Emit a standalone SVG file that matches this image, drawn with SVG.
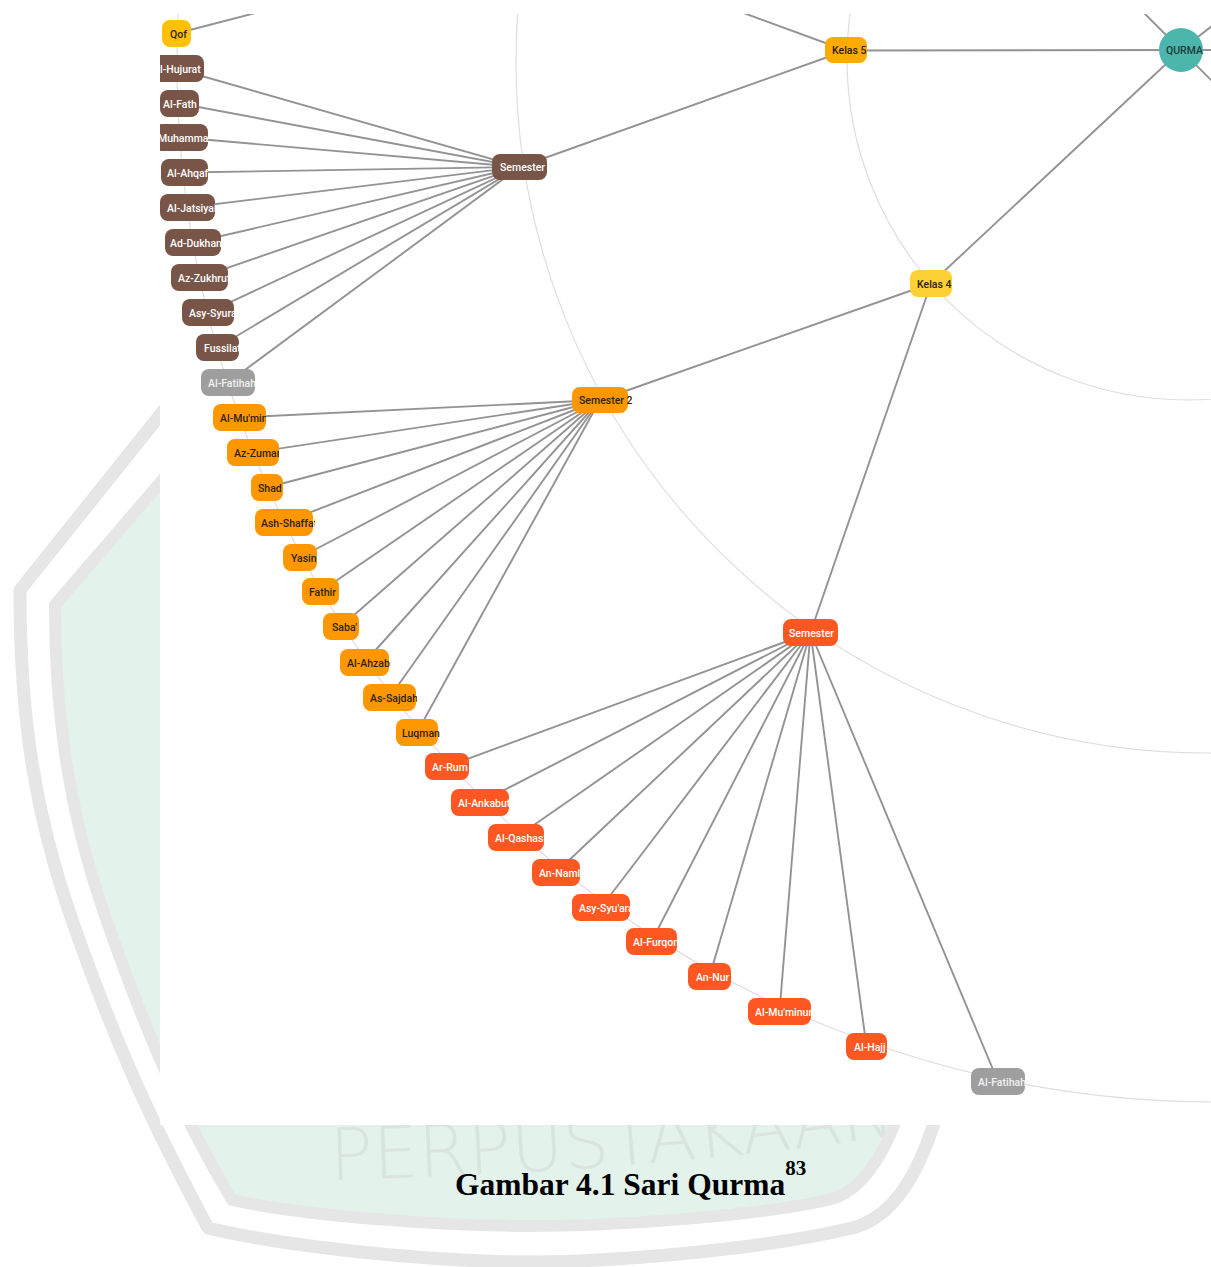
<svg xmlns="http://www.w3.org/2000/svg" width="1211" height="1267" viewBox="0 0 1211 1267">
<style>
.edge{stroke:#939393;stroke-width:1.9;fill:none}
.ring{stroke:#dedede;stroke-width:1.2;fill:none}
.lbl{font-family:Roboto,"Liberation Sans",sans-serif;font-size:10.5px;font-weight:500}
.wt{fill:#ffffff}
.dk{fill:#2b2200}
.brown{fill:#795548}
.grey{fill:#9e9e9e}
.orange{fill:#ff9800}
.red{fill:#ff5722}
.amber{fill:#ffab00}
.yellow{fill:#fdd035}
.gold{fill:#ffc107}
.teal{fill:#4db6ac}
.wmband{fill:none;stroke:#e6e6e6;stroke-linejoin:round}
.wmfill{fill:#e3f3eb;stroke:none}
</style>
<defs>
<clipPath id="shot"><rect x="160" y="14" width="1051" height="1111"/></clipPath>
<clipPath id="page"><rect x="0" y="1125" width="1211" height="142"/><rect x="0" y="0" width="160" height="1267"/></clipPath>
<path id="wmarc" d="M 330 1180 Q 700 1170 960 1125"/>
</defs>
<rect x="0" y="0" width="1211" height="1267" fill="#ffffff"/>
<g id="watermark">
<path class="wmfill" d="M 330 285 L 55 605 C 55 700 65 800 103 910 S 178 1110 232 1200 C 310 1217 450 1226 530 1226 C 610 1226 750 1217 828 1200 S 920 1010 957 910 C 995 800 1005 700 1005 605 L 730 285 Z"/>
<text clip-path="url(#page)" font-family="'DejaVu Sans',sans-serif" font-weight="200" font-size="72" fill="#d9e4de"><textPath href="#wmarc">PERPUSTAKAAN</textPath></text>
<path class="wmband" stroke-width="12" d="M 330 285 L 55 605 C 55 700 65 800 103 910 S 178 1110 232 1200 C 310 1217 450 1226 530 1226 C 610 1226 750 1217 828 1200 S 920 1010 957 910 C 995 800 1005 700 1005 605 L 730 285 Z"/>
<path class="wmband" stroke-width="13" d="M 300 240 L 20 590 C 20 700 30 800 72 920 S 150 1120 208 1228 C 300 1250 450 1262 530 1262 C 610 1262 760 1250 852 1228 S 950 1020 988 920 C 1030 800 1040 700 1040 590 L 760 240"/>
</g>
<rect x="160" y="0" width="1051" height="1125" fill="#ffffff"/>
<g clip-path="url(#shot)">
<g id="rings">
<circle class="ring" cx="1188" cy="59" r="341"/>
<circle class="ring" cx="1207" cy="62" r="691"/>
<circle class="ring" cx="1217" cy="62" r="1040"/>
</g>
<g id="connectors">
<line class="edge" x1="1181" y1="50" x2="1140" y2="9"/>
<line class="edge" x1="1181" y1="50" x2="1230" y2="12"/>
<line class="edge" x1="1181" y1="50" x2="1240" y2="50"/>
<line class="edge" x1="1181" y1="50" x2="1240" y2="109"/>
<line class="edge" x1="1181" y1="50" x2="846" y2="50.5"/>
<line class="edge" x1="1181" y1="50" x2="931" y2="283.5"/>
<line class="edge" x1="846" y1="50.5" x2="700" y2="-3"/>
<line class="edge" x1="176.5" y1="33.5" x2="300" y2="1.4"/>
<line class="edge" x1="846" y1="50.5" x2="519.5" y2="167"/>
<line class="edge" x1="931" y1="283.5" x2="600" y2="400"/>
<line class="edge" x1="931" y1="283.5" x2="810.5" y2="632.5"/>
<line class="edge" x1="519.5" y1="167" x2="175.5" y2="68.5"/>
<line class="edge" x1="519.5" y1="167" x2="179.5" y2="103.5"/>
<line class="edge" x1="519.5" y1="167" x2="181" y2="137.5"/>
<line class="edge" x1="519.5" y1="167" x2="184.5" y2="172.5"/>
<line class="edge" x1="519.5" y1="167" x2="187.5" y2="207.5"/>
<line class="edge" x1="519.5" y1="167" x2="193" y2="242.5"/>
<line class="edge" x1="519.5" y1="167" x2="199.5" y2="277.5"/>
<line class="edge" x1="519.5" y1="167" x2="208" y2="312.5"/>
<line class="edge" x1="519.5" y1="167" x2="217.5" y2="347.5"/>
<line class="edge" x1="519.5" y1="167" x2="228" y2="382.5"/>
<line class="edge" x1="600" y1="400" x2="239.5" y2="417.5"/>
<line class="edge" x1="600" y1="400" x2="253" y2="452.5"/>
<line class="edge" x1="600" y1="400" x2="267" y2="487.5"/>
<line class="edge" x1="600" y1="400" x2="284" y2="522.5"/>
<line class="edge" x1="600" y1="400" x2="300" y2="557.5"/>
<line class="edge" x1="600" y1="400" x2="320.5" y2="591.5"/>
<line class="edge" x1="600" y1="400" x2="341" y2="626.5"/>
<line class="edge" x1="600" y1="400" x2="364.5" y2="662.5"/>
<line class="edge" x1="600" y1="400" x2="389.5" y2="697.5"/>
<line class="edge" x1="600" y1="400" x2="417" y2="732.5"/>
<line class="edge" x1="810.5" y1="632.5" x2="447" y2="766.5"/>
<line class="edge" x1="810.5" y1="632.5" x2="480" y2="802.5"/>
<line class="edge" x1="810.5" y1="632.5" x2="516" y2="837.5"/>
<line class="edge" x1="810.5" y1="632.5" x2="556" y2="872.5"/>
<line class="edge" x1="810.5" y1="632.5" x2="601" y2="907.5"/>
<line class="edge" x1="810.5" y1="632.5" x2="651.5" y2="941.5"/>
<line class="edge" x1="810.5" y1="632.5" x2="709.5" y2="976.5"/>
<line class="edge" x1="810.5" y1="632.5" x2="779.5" y2="1011.5"/>
<line class="edge" x1="810.5" y1="632.5" x2="866.5" y2="1046.5"/>
<line class="edge" x1="810.5" y1="632.5" x2="998" y2="1081.5"/>
</g>
<g id="nodes">
<g id="n-qurma"><circle class="teal" cx="1181" cy="50" r="22"/><text class="lbl" x="1166" y="54" font-size="9.5" fill="#1f3a37">QURMA</text></g>
<g id="n-kelas5"><svg x="825" y="37" width="42" height="26"><rect class="amber" width="42" height="26" rx="8"/><text class="lbl dk" x="7" y="17">Kelas 5</text></svg></g>
<g id="n-kelas4"><svg x="910" y="270" width="42" height="27"><rect class="yellow" width="42" height="27" rx="8"/><text class="lbl dk" x="7" y="17.5">Kelas 4</text></svg></g>
<g id="n-qof"><svg x="162" y="20" width="29" height="27"><rect class="gold" width="29" height="27" rx="8"/><text class="lbl dk" x="8" y="17.5">Qof</text></svg></g>
<g id="n-semester-a"><svg x="492" y="154" width="55" height="26"><rect class="brown" width="55" height="26" rx="8"/><text class="lbl wt" x="8" y="17">Semester</text></svg></g>
<g id="n-al-hujurat"><svg x="147" y="55" width="57" height="27"><rect class="brown" width="57" height="27" rx="8"/><text class="lbl wt" x="6" y="17.5">Al-Hujurat</text></svg></g>
<g id="n-al-fath"><svg x="160" y="90" width="39" height="27"><rect class="brown" width="39" height="27" rx="8"/><text class="lbl wt" x="3" y="17.5">Al-Fath</text></svg></g>
<g id="n-muhammad"><svg x="154" y="124" width="54" height="27"><rect class="brown" width="54" height="27" rx="8"/><text class="lbl wt" x="4" y="17.5">Muhammad</text></svg></g>
<g id="n-al-ahqaf"><svg x="161" y="159" width="47" height="27"><rect class="brown" width="47" height="27" rx="8"/><text class="lbl wt" x="6" y="17.5">Al-Ahqaf</text></svg></g>
<g id="n-al-jatsiyah"><svg x="160" y="194" width="55" height="27"><rect class="brown" width="55" height="27" rx="8"/><text class="lbl wt" x="7" y="17.5">Al-Jatsiyah</text></svg></g>
<g id="n-ad-dukhan"><svg x="165" y="229" width="56" height="27"><rect class="brown" width="56" height="27" rx="8"/><text class="lbl wt" x="5" y="17.5">Ad-Dukhan</text></svg></g>
<g id="n-az-zukhruf"><svg x="171" y="264" width="57" height="27"><rect class="brown" width="57" height="27" rx="8"/><text class="lbl wt" x="7" y="17.5">Az-Zukhruf</text></svg></g>
<g id="n-asy-syura"><svg x="182" y="299" width="52" height="27"><rect class="brown" width="52" height="27" rx="8"/><text class="lbl wt" x="7" y="17.5">Asy-Syura</text></svg></g>
<g id="n-fussilat"><svg x="196" y="334" width="43" height="27"><rect class="brown" width="43" height="27" rx="8"/><text class="lbl wt" x="8" y="17.5">Fussilat</text></svg></g>
<g id="n-al-fatihah-a"><svg x="201" y="369" width="54" height="27"><rect class="grey" width="54" height="27" rx="8"/><text class="lbl" fill="#f2f2f2" x="7" y="17.5">Al-Fatihah</text></svg></g>
<g id="n-semester-2"><svg x="572" y="387" width="62" height="26"><rect class="orange" width="56" height="26" rx="8"/><text class="lbl dk" x="7" y="17">Semester 2</text></svg></g>
<g id="n-al-mumin"><svg x="213" y="404" width="53" height="27"><rect class="orange" width="53" height="27" rx="8"/><text class="lbl dk" x="7" y="17.5">Al-Mu'min</text></svg></g>
<g id="n-az-zumar"><svg x="227" y="439" width="52" height="27"><rect class="orange" width="52" height="27" rx="8"/><text class="lbl dk" x="7" y="17.5">Az-Zumar</text></svg></g>
<g id="n-shad"><svg x="251" y="474" width="32" height="27"><rect class="orange" width="32" height="27" rx="8"/><text class="lbl dk" x="7" y="17.5">Shad</text></svg></g>
<g id="n-ash-shaffat"><svg x="255" y="509" width="60" height="27"><rect class="orange" width="58" height="27" rx="8"/><text class="lbl dk" x="6" y="17.5">Ash-Shaffat</text></svg></g>
<g id="n-yasin"><svg x="283" y="544" width="34" height="27"><rect class="orange" width="34" height="27" rx="8"/><text class="lbl dk" x="8" y="17.5">Yasin</text></svg></g>
<g id="n-fathir"><svg x="302" y="578" width="37" height="27"><rect class="orange" width="37" height="27" rx="8"/><text class="lbl dk" x="7" y="17.5">Fathir</text></svg></g>
<g id="n-saba"><svg x="323" y="613" width="36" height="27"><rect class="orange" width="36" height="27" rx="8"/><text class="lbl dk" x="9" y="17.5">Saba'</text></svg></g>
<g id="n-al-ahzab"><svg x="340" y="649" width="50" height="27"><rect class="orange" width="49" height="27" rx="8"/><text class="lbl dk" x="7" y="17.5">Al-Ahzab</text></svg></g>
<g id="n-as-sajdah"><svg x="363" y="684" width="54" height="27"><rect class="orange" width="53" height="27" rx="8"/><text class="lbl dk" x="7" y="17.5">As-Sajdah</text></svg></g>
<g id="n-luqman"><svg x="396" y="719" width="44" height="27"><rect class="orange" width="42" height="27" rx="8"/><text class="lbl dk" x="6" y="17.5">Luqman</text></svg></g>
<g id="n-semester-b"><svg x="783" y="619" width="55" height="27"><rect class="red" width="55" height="27" rx="8"/><text class="lbl wt" x="6" y="17.5">Semester</text></svg></g>
<g id="n-ar-rum"><svg x="425" y="753" width="44" height="27"><rect class="red" width="44" height="27" rx="8"/><text class="lbl wt" x="7" y="17.5">Ar-Rum</text></svg></g>
<g id="n-al-ankabut"><svg x="451" y="789" width="58" height="27"><rect class="red" width="58" height="27" rx="8"/><text class="lbl wt" x="7" y="17.5">Al-Ankabut</text></svg></g>
<g id="n-al-qashash"><svg x="488" y="824" width="56" height="27"><rect class="red" width="56" height="27" rx="8"/><text class="lbl wt" x="7" y="17.5">Al-Qashash</text></svg></g>
<g id="n-an-naml"><svg x="532" y="859" width="48" height="27"><rect class="red" width="48" height="27" rx="8"/><text class="lbl wt" x="7" y="17.5">An-Naml</text></svg></g>
<g id="n-asy-syuara"><svg x="572" y="894" width="58" height="27"><rect class="red" width="58" height="27" rx="8"/><text class="lbl wt" x="7" y="17.5">Asy-Syu'ara</text></svg></g>
<g id="n-al-furqon"><svg x="626" y="928" width="51" height="27"><rect class="red" width="51" height="27" rx="8"/><text class="lbl wt" x="7" y="17.5">Al-Furqon</text></svg></g>
<g id="n-an-nur"><svg x="688" y="963" width="43" height="27"><rect class="red" width="43" height="27" rx="8"/><text class="lbl wt" x="8" y="17.5">An-Nur</text></svg></g>
<g id="n-al-muminun"><svg x="748" y="998" width="63" height="27"><rect class="red" width="63" height="27" rx="8"/><text class="lbl wt" x="7" y="17.5">Al-Mu'minun</text></svg></g>
<g id="n-al-hajj"><svg x="846" y="1033" width="41" height="27"><rect class="red" width="41" height="27" rx="8"/><text class="lbl wt" x="8" y="17.5">Al-Hajj</text></svg></g>
<g id="n-al-fatihah-b"><svg x="971" y="1068" width="54" height="27"><rect class="grey" width="54" height="27" rx="8"/><text class="lbl" fill="#f2f2f2" x="7" y="17.5">Al-Fatihah</text></svg></g>
</g>
</g>
<text x="455" y="1195" font-family="'Liberation Serif','Times New Roman',serif" font-weight="bold" font-size="31.5" fill="#000">Gambar 4.1 Sari Qurma<tspan font-size="21" dy="-20">83</tspan></text>
</svg>
